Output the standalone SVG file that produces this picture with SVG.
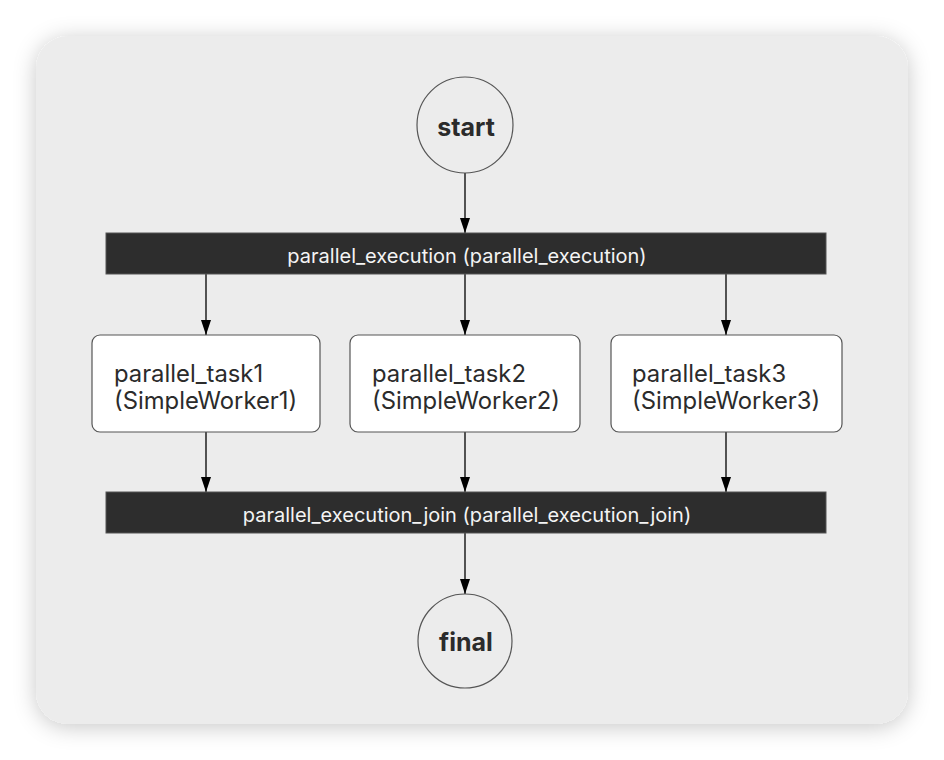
<svg xmlns="http://www.w3.org/2000/svg" width="944" height="760" viewBox="0 0 944 760">
<defs>
<filter id="sh" x="-10%" y="-10%" width="120%" height="120%">
<feDropShadow dx="0" dy="3" stdDeviation="11" flood-color="#000" flood-opacity="0.22"/>
</filter>
<marker id="arr" viewBox="0 0 15 10" refX="15" refY="5" markerWidth="15" markerHeight="10" markerUnits="userSpaceOnUse" orient="auto">
<path d="M0,0 L15,5 L0,10 Z" fill="#000"/>
</marker>
</defs>
<style>
.edge{stroke:#000;stroke-width:1.3;fill:none;marker-end:url(#arr)}
.circ{fill:#ececec;stroke:#555;stroke-width:1.2}
.circt{font-family:Inter,"Liberation Sans",sans-serif;font-weight:700;font-size:25px;fill:#2b2b2b;text-anchor:middle}
.bar{fill:#2d2d2d;stroke:#555;stroke-width:1}
.bart{font-family:Inter,"Liberation Sans",sans-serif;font-size:20px;fill:#f4f4f4;text-anchor:middle}
.box{fill:#fff;stroke:#555;stroke-width:1.2}
.boxt{font-family:Inter,"Liberation Sans",sans-serif;font-size:23.8px;fill:#2b2b2b}
</style>
<rect width="944" height="760" fill="#fff"/>
<rect x="36" y="36" width="872" height="688" rx="32" fill="#ececec" filter="url(#sh)"/>
<g id="connectors">
<line class="edge" x1="465" y1="173" x2="465" y2="233"/>
<line class="edge" x1="206" y1="274" x2="206" y2="335"/>
<line class="edge" x1="465" y1="274" x2="465" y2="335"/>
<line class="edge" x1="726" y1="274" x2="726" y2="335"/>
<line class="edge" x1="206" y1="432" x2="206" y2="492"/>
<line class="edge" x1="465" y1="432" x2="465" y2="492"/>
<line class="edge" x1="726" y1="432" x2="726" y2="492"/>
<line class="edge" x1="465" y1="533" x2="465" y2="594"/>
</g>
<g id="start">
<circle class="circ" cx="465" cy="125" r="48"/>
<text class="circt" x="466" y="136">start</text>
</g>
<g id="parallel_execution">
<rect class="bar" x="106" y="233" width="720" height="41"/>
<text class="bart" x="467" y="263">parallel_execution (parallel_execution)</text>
</g>
<g id="parallel_task1">
<rect class="box" x="92" y="335" width="228" height="97" rx="8"/>
<text class="boxt" x="114" y="382">parallel_task1</text>
<text class="boxt" x="114" y="409">(SimpleWorker1)</text>
</g>
<g id="parallel_task2">
<rect class="box" x="350" y="335" width="230" height="97" rx="8"/>
<text class="boxt" x="372" y="382">parallel_task2</text>
<text class="boxt" x="372" y="409">(SimpleWorker2)</text>
</g>
<g id="parallel_task3">
<rect class="box" x="611" y="335" width="231" height="97" rx="8"/>
<text class="boxt" x="632" y="382">parallel_task3</text>
<text class="boxt" x="632" y="409">(SimpleWorker3)</text>
</g>
<g id="parallel_execution_join">
<rect class="bar" x="106" y="492" width="720" height="41"/>
<text class="bart" x="467" y="522">parallel_execution_join (parallel_execution_join)</text>
</g>
<g id="final">
<circle class="circ" cx="465" cy="641" r="47"/>
<text class="circt" x="466" y="651">final</text>
</g>
</svg>
